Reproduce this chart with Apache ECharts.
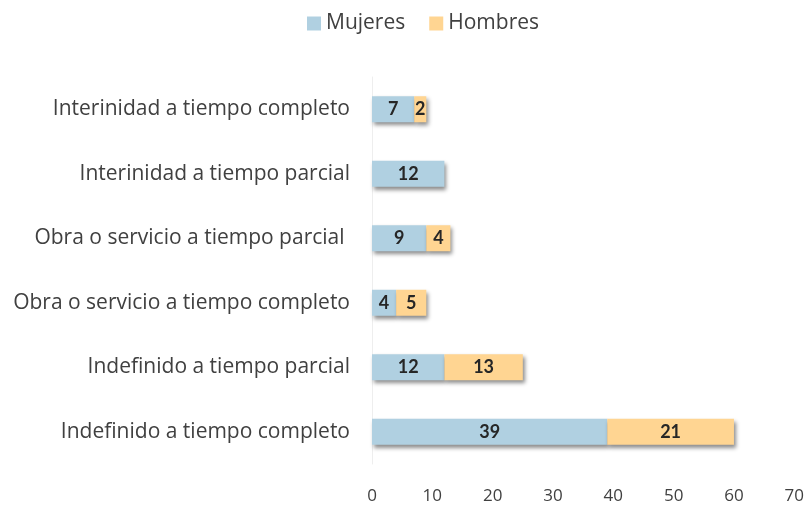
<!DOCTYPE html>
<html>
<head>
<meta charset="utf-8">
<script src="https://cdn.jsdelivr.net/npm/echarts@6/dist/echarts.min.js"></script>
<style>
  html, body { margin: 0; padding: 0; background: #fff; }
  #chart { width: 807px; height: 506px; }
</style>
</head>
<body>
<div id="chart"></div>
<script>
const categories = [
  'Indefinido a tiempo completo',
  'Indefinido a tiempo parcial',
  'Obra o servicio a tiempo completo',
  'Obra o servicio a tiempo parcial ',
  'Interinidad a tiempo parcial',
  'Interinidad a tiempo completo'
]
const mujeres = [39, 12, 4, 9, 12, 7]
const hombres = [21, 13, 5, 4, 0, 2]

const chart = echarts.init(document.getElementById('chart'))

const barShadow = {
  shadowColor: 'rgba(0,0,0,0.45)',
  shadowBlur: 4,
  shadowOffsetX: 2,
  shadowOffsetY: 3
}

// hide zero labels
const labelFmt = p => (p.value ? p.value : '')

chart.setOption({
  animation: false,
  textStyle: { fontFamily: 'Open Sans', color: '#404040' },
  legend: {
    top: 8,
    left: 302,
    itemWidth: 14,
    itemHeight: 14,
    itemGap: 24,
    icon: 'rect',
    textStyle: { fontSize: 21, color: '#404040', fontFamily: 'Open Sans' },
    data: ['Mujeres', 'Hombres']
  },
  grid: { left: 372, right: 12, top: 77, bottom: 42 },
  xAxis: {
    type: 'value',
    min: 0,
    max: 70,
    interval: 10,
    splitLine: { show: false },
    axisLine: { show: false },
    axisTick: { show: false },
    axisLabel: { fontSize: 17, color: '#404040', margin: 24 }
  },
  yAxis: {
    type: 'category',
    data: categories,
    axisLine: { show: true, lineStyle: { color: '#eeeeee' } },
    axisTick: { show: false },
    axisLabel: { fontSize: 21, color: '#404040', margin: 22 }
  },
  series: [
    {
      name: 'Mujeres',
      type: 'bar',
      stack: 'total',
      barWidth: 26,
      data: mujeres,
      itemStyle: Object.assign({ color: '#B0D0E1' }, barShadow),
      label: {
        show: true,
        position: 'inside',
        formatter: labelFmt,
        fontSize: 18,
        fontWeight: 'bold',
        fontFamily: 'Lato',
        color: '#262626'
      }
    },
    {
      name: 'Hombres',
      type: 'bar',
      stack: 'total',
      barWidth: 26,
      data: hombres,
      itemStyle: Object.assign({ color: '#FFD592' }, barShadow),
      label: {
        show: true,
        position: 'inside',
        formatter: labelFmt,
        fontSize: 18,
        fontWeight: 'bold',
        fontFamily: 'Lato',
        color: '#262626'
      }
    }
  ]
})

window.addEventListener('resize', () => chart.resize())
</script>
</body>
</html>
